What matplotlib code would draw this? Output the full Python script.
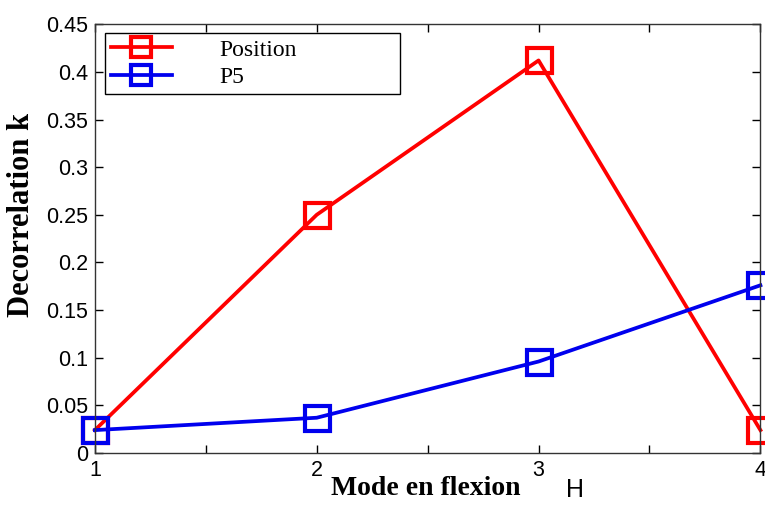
import numpy as np
import matplotlib.pyplot as plt

modes = [1, 2, 3, 4]
position = [0.024, 0.250, 0.412, 0.024]
p5 = [0.024, 0.037, 0.096, 0.176]

SANS = "Liberation Sans"
SERIF = "Liberation Serif"

fig = plt.figure(figsize=(7.65, 5.05), dpi=100)
ax = fig.add_axes([0.124, 0.103, 0.870, 0.849])

style = dict(marker="s", markersize=18, markerfacecolor="none",
             markeredgewidth=3.0, linewidth=2.7, clip_on=False)
ax.plot(modes, position, color="#ff0000", label="Position", **style)
ax.plot(modes, p5, color="#0000ee", label="P5", **style)

ax.set_xlim(1, 4)
ax.set_ylim(0, 0.45)
ax.set_xticks(np.arange(1, 4.01, 0.5))
ax.set_xticklabels(["1", "", "2", "", "3", "", "4"])
ax.set_yticks(np.arange(0, 0.451, 0.05))
ax.set_yticklabels(["0", "0.05", "0.1", "0.15", "0.2", "0.25", "0.3",
                    "0.35", "0.4", "0.45"])
ax.tick_params(direction="in", length=6, width=1, labelsize=15.5,
               top=True, right=True, pad=5)
for lab in ax.get_xticklabels() + ax.get_yticklabels():
    lab.set_family(SANS)
for s in ax.spines.values():
    s.set_linewidth(1)
    s.set_color("#333333")

ax.set_ylabel("Decorrelation k", family=SERIF, fontweight="bold", fontsize=22)
ax.yaxis.set_label_coords(-0.088, 0.555)

# x label sits low in the original, with a stray "H" to its right
fig.text(0.557, 0.032, "Mode en flexion", family=SERIF, fontweight="bold",
         fontsize=20, ha="center", va="center")
fig.text(0.752, 0.030, "H", family=SANS, fontsize=18, ha="center", va="center")

leg = ax.legend(loc="upper left", bbox_to_anchor=(0.015, 0.834, 0.444, 0.145),
                mode="expand", prop={"family": SERIF, "size": 17},
                handlelength=2.6, handletextpad=2.0, borderpad=0.25,
                labelspacing=0.25, fancybox=False, edgecolor="black",
                framealpha=1, borderaxespad=0)
leg.get_frame().set_linewidth(1)
for h in leg.legend_handles:
    h.set_markersize(15)

fig.savefig("out.png", dpi=100)
